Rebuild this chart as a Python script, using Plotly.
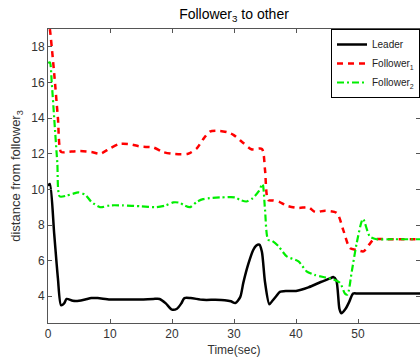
import plotly.graph_objects as go

# Leader distance
t_leader = [0, 0.3, 1.0, 1.6, 2.1, 2.6, 3.0, 4.0, 5.0, 6.0, 7.0, 8.0, 10.0, 13.0, 15.0, 17.0, 18.0, 19.0, 20.0, 20.8, 21.5, 22.0, 23.0, 25.0, 27.0, 28.5, 29.5, 30.2, 31.0, 31.5, 32.3, 33.1, 33.6, 34.1, 34.5, 35.0, 35.7, 36.2, 36.8, 37.4, 38.5, 40.0, 42.0, 44.0, 45.5, 46.0, 46.5, 47.0, 47.3, 48.0, 48.6, 49.2, 50.0, 55.0, 60.0]
v_leader = [10.2, 10.3, 7.5, 5.0, 3.5, 3.6, 3.85, 3.75, 3.75, 3.82, 3.9, 3.9, 3.82, 3.82, 3.82, 3.85, 3.85, 3.6, 3.25, 3.3, 3.6, 3.9, 3.9, 3.8, 3.8, 3.78, 3.72, 3.62, 3.95, 4.75, 5.8, 6.6, 6.85, 6.9, 6.5, 4.8, 3.55, 3.75, 4.0, 4.25, 4.3, 4.3, 4.5, 4.8, 5.0, 5.08, 4.9, 3.3, 3.05, 3.3, 3.7, 4.15, 4.15, 4.15, 4.15]

# Follower 1 distance
t_f1 = [0, 0.3, 1.0, 1.6, 2.1, 3.0, 5.0, 7.0, 8.4, 10.0, 11.5, 12.9, 15.0, 17.0, 18.5, 20.0, 22.6, 24.0, 25.0, 26.1, 27.7, 29.0, 29.9, 31.5, 32.8, 34.5, 35.0, 35.5, 36.3, 37.3, 38.5, 40.4, 42.0, 43.1, 44.7, 46.6, 47.6, 48.7, 49.8, 50.9, 51.8, 52.5, 55.0, 60.0]
v_f1 = [19.6, 19.0, 16.5, 14.0, 12.1, 12.1, 12.15, 12.1, 12.0, 12.3, 12.55, 12.55, 12.4, 12.35, 12.1, 12.0, 12.0, 12.3, 12.8, 13.24, 13.28, 13.2, 13.06, 12.6, 12.25, 12.27, 11.1, 9.4, 9.38, 9.3, 9.08, 8.95, 9.0, 8.73, 8.8, 8.67, 7.74, 6.7, 6.6, 6.52, 6.9, 7.18, 7.2, 7.2]

# Follower 2 distance
t_f2 = [0, 0.3, 0.6, 1.0, 1.5, 1.9, 3.0, 4.0, 4.9, 6.0, 7.0, 8.4, 10.0, 12.0, 15.0, 17.5, 19.0, 20.2, 21.2, 22.0, 22.9, 24.0, 25.0, 26.1, 28.0, 30.2, 31.0, 32.0, 33.0, 34.0, 34.6, 35.0, 35.5, 36.2, 37.2, 38.5, 40.4, 41.7, 43.0, 44.4, 46.0, 47.1, 47.9, 48.3, 49.0, 49.8, 50.8, 51.9, 53.0, 55.0, 60.0]
v_f2 = [17.1, 17.13, 16.0, 14.0, 11.5, 9.6, 9.65, 9.75, 9.83, 9.7, 9.3, 9.0, 9.1, 9.1, 9.05, 9.0, 9.1, 9.27, 9.25, 9.1, 9.0, 9.3, 9.45, 9.51, 9.55, 9.55, 9.4, 9.32, 9.5, 9.9, 10.3, 8.86, 7.18, 7.1, 6.8, 6.24, 5.96, 5.4, 5.2, 5.08, 4.95, 4.75, 4.15, 4.1, 5.4, 7.0, 8.34, 7.36, 7.2, 7.2, 7.2]

x_ticks = [0, 10, 20, 30, 40, 50]
y_ticks = [4, 6, 8, 10, 12, 14, 16, 18]

FONT = "Liberation Sans, Arial"

fig = go.Figure()
fig.add_trace(go.Scatter(x=t_leader, y=v_leader, mode="lines", name="Leader",
                         line=dict(color="black", width=2.5, shape="spline", smoothing=0.7)))
fig.add_trace(go.Scatter(x=t_f1, y=v_f1, mode="lines", name="Follower<sub>1</sub>",
                         line=dict(color="#ff0000", width=2.5, dash="6px,5px", shape="spline", smoothing=0.7)))
fig.add_trace(go.Scatter(x=t_f2, y=v_f2, mode="lines", name="Follower<sub>2</sub>",
                         line=dict(color="#00ee00", width=2.2, dash="7px,3px,2px,3px", shape="spline", smoothing=0.7)))

axis_common = dict(showgrid=False, zeroline=False, showline=True, linecolor="#555555",
                   linewidth=1, mirror="ticks", ticks="inside", ticklen=4,
                   tickcolor="#555555", tickfont=dict(family=FONT, size=12, color="#333333"))

fig.update_xaxes(range=[0, 60], tickvals=x_ticks, ticktext=[str(v) for v in x_ticks],
                 title=dict(text="Time(sec)", font=dict(family=FONT, size=12, color="#333333"), standoff=5),
                 **axis_common)
fig.update_yaxes(range=[2.5, 19], tickvals=y_ticks, ticktext=[str(v) for v in y_ticks],
                 title=dict(text="distance from follower<sub>3</sub>", font=dict(family=FONT, size=13, color="#333333"), standoff=7),
                 **axis_common)

fig.update_layout(
    width=420, height=362,
    margin=dict(l=48, r=0, t=29, b=39),
    paper_bgcolor="white", plot_bgcolor="white",
    title=dict(text="Follower<sub>3</sub> to other", x=0.5, xref="paper", y=0.96, yanchor="middle",
               font=dict(family=FONT, size=14, color="black")),
    legend=dict(x=0.761, y=1, xanchor="left", yanchor="top", bordercolor="black", borderwidth=1,
                bgcolor="white", font=dict(family=FONT, size=10, color="#222222"),
                tracegroupgap=0, itemwidth=30),
    showlegend=True,
)

fig.write_html("out.html")
